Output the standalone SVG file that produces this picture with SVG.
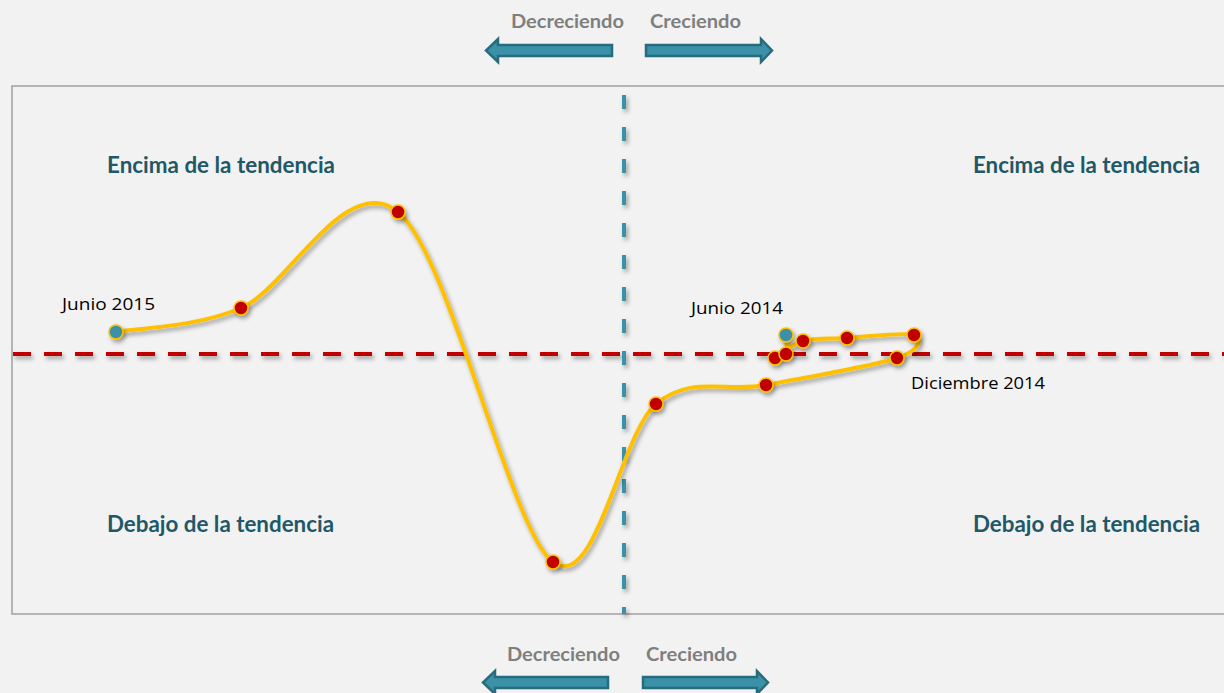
<svg xmlns="http://www.w3.org/2000/svg" width="1224" height="693" viewBox="0 0 1224 693">
<defs>
<filter id="sh" x="-10%" y="-10%" width="120%" height="130%">
<feDropShadow dx="2" dy="3" stdDeviation="2" flood-color="#000" flood-opacity="0.35"/>
</filter>
<style>
.dir{font-family:Lato,"Open Sans",sans-serif;font-weight:bold;font-size:19px;fill:#7f7f7f}
.zone{font-family:Lato,"Open Sans",sans-serif;font-weight:bold;font-size:22px;fill:#215868}
.lbl{font-family:"Open Sans","Liberation Sans",sans-serif;font-size:16.5px;fill:#000}
.arr{fill:#3a91a8;stroke:#276c7e;stroke-width:2.5;stroke-linejoin:miter}
.pt{fill:#c00000;stroke:#ffc000;stroke-width:1.5}
.pt0{fill:#3a91a8;stroke:#ffc000;stroke-width:1.5}
</style>
</defs>
<rect width="1224" height="693" fill="#f2f2f2"/>
<rect id="frame" x="12" y="86" width="1230" height="528" fill="#f2f2f2" stroke="#a0a0a0" stroke-width="1.5"/>

<g id="top-arrows">
<path class="arr" d="M612,45 L498,45 L498,39 L486,50.5 L498,62 L498,56 L612,56 Z"/>
<path class="arr" d="M646,45 L761,45 L761,39 L772,50.5 L761,62 L761,56 L646,56 Z"/>
<text class="dir" x="511" y="28" textLength="113" lengthAdjust="spacingAndGlyphs">Decreciendo</text>
<text class="dir" x="650" y="28" textLength="91" lengthAdjust="spacingAndGlyphs">Creciendo</text>
</g>
<g id="bottom-arrows">
<path class="arr" d="M608,677 L495,677 L495,671 L483,682.5 L495,694 L495,688 L608,688 Z"/>
<path class="arr" d="M643,677 L757,677 L757,671 L768,682.5 L757,694 L757,688 L643,688 Z"/>
<text class="dir" x="507" y="661" textLength="113" lengthAdjust="spacingAndGlyphs">Decreciendo</text>
<text class="dir" x="646" y="661" textLength="91" lengthAdjust="spacingAndGlyphs">Creciendo</text>
</g>

<g id="axes" filter="url(#sh)">
<line x1="624" y1="95" x2="624" y2="614" stroke="#3a91a8" stroke-width="4" stroke-dasharray="14 18"/>
<line x1="13" y1="354" x2="1224" y2="354" stroke="#c00000" stroke-width="4" stroke-dasharray="18 13"/>
</g>

<g id="zones">
<text class="zone" x="107" y="173" textLength="228" lengthAdjust="spacingAndGlyphs">Encima de la tendencia</text>
<text class="zone" x="973" y="173" textLength="227" lengthAdjust="spacingAndGlyphs">Encima de la tendencia</text>
<text class="zone" x="107" y="532" textLength="227" lengthAdjust="spacingAndGlyphs">Debajo de la tendencia</text>
<text class="zone" x="973" y="532" textLength="227" lengthAdjust="spacingAndGlyphs">Debajo de la tendencia</text>
</g>

<g id="connectors" filter="url(#sh)">
<path fill="none" stroke="#ffc000" stroke-width="4" stroke-linecap="round" stroke-linejoin="round" d="M786,335 C786,338.2 787.8,350.2 786,354 C784.2,357.8 772.2,360.2 775,358 C777.8,355.8 791,344.3 803,341 C815,337.7 828.5,339 847,338 C865.5,337 905.7,331.7 914,335 C922.3,338.3 921.7,349.7 897,358 C872.3,366.3 806.2,377.3 766,385 C725.8,392.7 691.5,374.5 656,404 C620.5,433.5 596,594 553,562 C510,530 450,254.3 398,212 C346,169.7 288,288 241,308 C194,328 136.8,328 116,332"/>
</g>

<g id="points" filter="url(#sh)">
<circle class="pt0" cx="116" cy="332" r="7"/>
<circle class="pt" cx="241" cy="308" r="7"/>
<circle class="pt" cx="398" cy="212" r="7"/>
<circle class="pt" cx="553" cy="562" r="7"/>
<circle class="pt" cx="656" cy="404" r="7"/>
<circle class="pt" cx="766" cy="385" r="7"/>
<circle class="pt" cx="897" cy="358" r="7"/>
<circle class="pt" cx="914" cy="335" r="7"/>
<circle class="pt" cx="847" cy="338" r="7"/>
<circle class="pt" cx="803" cy="341" r="7"/>
<circle class="pt" cx="775" cy="358" r="7"/>
<circle class="pt" cx="786" cy="354" r="7"/>
<circle class="pt0" cx="786" cy="335" r="7"/>
</g>

<g id="labels">
<text class="lbl" x="62" y="310" textLength="93" lengthAdjust="spacingAndGlyphs">Junio 2015</text>
<text class="lbl" x="691" y="314" textLength="92" lengthAdjust="spacingAndGlyphs">Junio 2014</text>
<text class="lbl" x="911" y="389" textLength="134" lengthAdjust="spacingAndGlyphs">Diciembre 2014</text>
</g>
</svg>
